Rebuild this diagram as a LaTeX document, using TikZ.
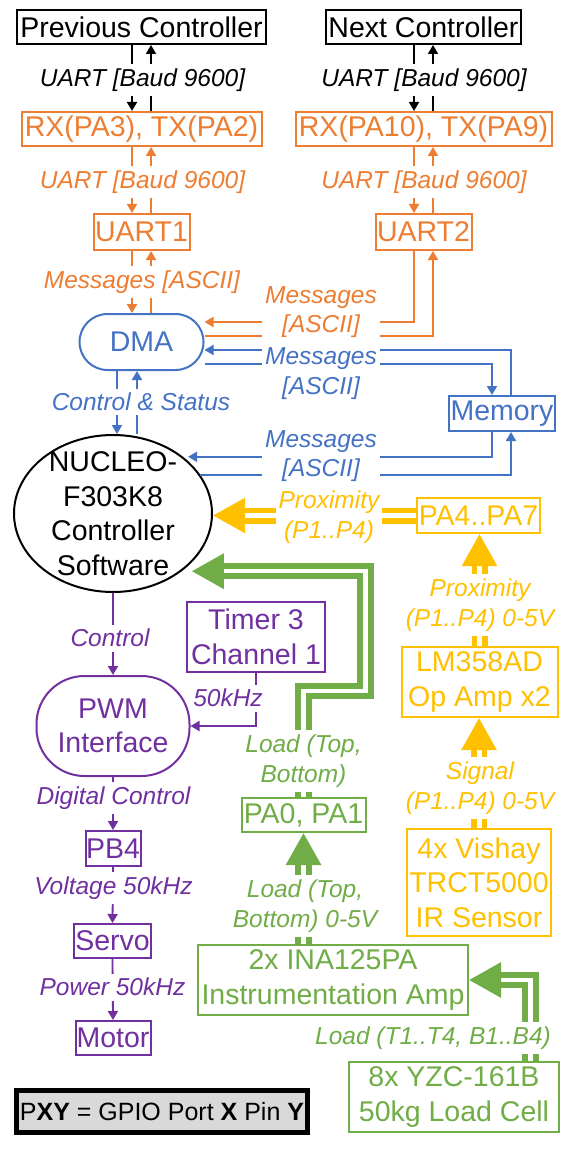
\documentclass[tikz,border=0pt]{standalone}
\usepackage{fontspec}
\setmainfont{Liberation Sans}
\usetikzlibrary{arrows.meta,shapes.geometric}
\definecolor{corange}{HTML}{ED7D31}
\definecolor{cblue}{HTML}{4472C4}
\definecolor{cyellow}{HTML}{FFC000}
\definecolor{cgreen}{HTML}{70AD47}
\definecolor{cpurple}{HTML}{7030A0}
\definecolor{cgray}{HTML}{D9D9D9}
\newcommand{\boxfont}{\fontsize{28.5}{34.5}\selectfont}
\newcommand{\lblfont}{\fontsize{24.5}{29.5}\selectfont\itshape}
\tikzset{
  unitbox/.style={draw, line width=2pt, inner sep=0pt, align=center, font=\boxfont},
  lbl/.style={fill=white, inner xsep=3pt, inner ysep=4.5pt, align=center, font=\lblfont},
  arr/.style={line width=1.8pt, -{Triangle[length=9pt,width=10pt]}},
  fat/.style={line width=5.5pt, double=white, double distance=5pt, -{Triangle[length=32pt,width=34pt]}},
}
\begin{document}
\begin{tikzpicture}[x=1pt,y=-1pt]
\useasboundingbox[fill=white] (0,0) rectangle (584,1150);
% boxes
\node[unitbox, minimum width=249pt, minimum height=34pt] (prev) at (141.5,27) {Previous Controller};
\node[unitbox, minimum width=195pt, minimum height=34pt] (next) at (423.5,27) {Next Controller};
\node[unitbox, corange, minimum width=240pt, minimum height=34pt] (rx1) at (141.5,129) {RX(PA3), TX(PA2)};
\node[unitbox, corange, minimum width=256pt, minimum height=34pt] (rx2) at (423.5,129) {RX(PA10), TX(PA9)};
\node[unitbox, corange, minimum width=96pt, minimum height=36pt] (uart1) at (141.5,232) {UART1};
\node[unitbox, corange, minimum width=96pt, minimum height=36pt] (uart2) at (423.5,232) {UART2};
\node[unitbox, cblue, minimum width=124pt, minimum height=56pt, rounded corners=28pt] (dma) at (141.5,342) {DMA};
\node[unitbox, cblue, minimum width=106pt, minimum height=35pt] (mem) at (502,413.5) {Memory};
\node[draw, ellipse, line width=2pt, minimum width=198pt, minimum height=157pt] (nuc) at (113,513.5) {};
\node[align=center, font=\boxfont] (nuctxt) at (nuc) {NUCLEO-\\F303K8\\Controller\\Software};
\node[unitbox, cyellow, minimum width=123pt, minimum height=35pt] (pa47) at (478.5,515.5) {PA4..PA7};
\node[unitbox, cpurple, minimum width=138pt, minimum height=70pt] (timer) at (256,637) {Timer 3\\Channel 1};
\node[unitbox, cpurple, minimum width=153pt, minimum height=100pt, rounded corners=48pt] (pwm) at (113,726) {PWM\\Interface};
\node[unitbox, cyellow, minimum width=156pt, minimum height=70pt] (lm) at (479.5,682) {LM358AD\\Op Amp x2};
\node[unitbox, cpurple, minimum width=55pt, minimum height=35pt] (pb4) at (113,848.5) {PB4};
\node[unitbox, cgreen, minimum width=124pt, minimum height=34pt] (pa01) at (303.5,815) {PA0, PA1};
\node[unitbox, cyellow, minimum width=144pt, minimum height=107pt] (vishay) at (479,882.5) {4x Vishay\\TRCT5000\\IR Sensor};
\node[unitbox, cpurple, minimum width=77pt, minimum height=34pt] (servo) at (112.5,941) {Servo};
\node[unitbox, cgreen, minimum width=270pt, minimum height=70pt] (ina) at (333,980) {2x INA125PA\\Instrumentation Amp};
\node[unitbox, cpurple, minimum width=75pt, minimum height=34pt] (motor) at (113,1038) {Motor};
\node[unitbox, cgreen, minimum width=210pt, minimum height=70pt] (cell) at (454,1097) {8x YZC-161B\\50kg Load Cell};
\node[draw, fill=cgray, line width=5pt, inner sep=0pt, minimum width=291pt, minimum height=42pt, font=\fontsize{25}{30}\selectfont] (legend) at (162,1111.5) {P\textbf{XY} = GPIO Port \textbf{X} Pin \textbf{Y}};
% uart links
\draw[arr] ([xshift=-9.5pt]prev.south) -- ([xshift=-9.5pt]rx1.north);
\draw[arr] ([xshift=9.5pt]rx1.north) -- ([xshift=9.5pt]prev.south);
\draw[arr] ([xshift=-9.5pt]next.south) -- ([xshift=-9.5pt]rx2.north);
\draw[arr] ([xshift=9.5pt]rx2.north) -- ([xshift=9.5pt]next.south);
\draw[arr, corange] ([xshift=-9.5pt]rx1.south) -- ([xshift=-9.5pt]uart1.north);
\draw[arr, corange] ([xshift=9.5pt]uart1.north) -- ([xshift=9.5pt]rx1.south);
\draw[arr, corange] ([xshift=-9.5pt]rx2.south) -- ([xshift=-9.5pt]uart2.north);
\draw[arr, corange] ([xshift=9.5pt]uart2.north) -- ([xshift=9.5pt]rx2.south);
\draw[arr, corange] ([xshift=-9.5pt]uart1.south) -- ([xshift=-9.5pt]dma.north);
\draw[arr, corange] ([xshift=9.5pt]dma.north) -- ([xshift=9.5pt]uart1.south);
\draw[arr, corange] ([xshift=-9.5pt]uart2.south) |- ([yshift=20pt]dma.east);
\draw[arr, corange] ([yshift=6pt]dma.east) -| ([xshift=9.5pt]uart2.south);
% dma, memory, controller
\draw[arr, cblue] ([xshift=9pt]mem.north) |- ([yshift=-8pt]dma.east);
\draw[arr, cblue] ([yshift=-22pt]dma.east) -| ([xshift=-10pt]mem.north);
\draw[arr, cblue] ([xshift=-10pt]mem.south) |- ([xshift=5pt]nuc.39);
\draw[arr, cblue] (nuc.24) -| ([xshift=9pt]mem.south);
\draw[arr, cblue] ([xshift=-24.5pt]dma.south) -- ([xshift=-24.5pt]dma.south |- nuc.north);
\draw[arr, cblue] ([xshift=-4.5pt]dma.south |- nuc.north) -- ([xshift=-4.5pt]dma.south);
% pwm chain
\draw[arr, cpurple] (nuc.south) -- (pwm.north);
\draw[arr, cpurple] (timer.south) |- (pwm.east);
\draw[arr, cpurple] (pwm.south) -- (pb4.north);
\draw[arr, cpurple] (pb4.south) -- (servo.north);
\draw[arr, cpurple] (servo.south) -- (motor.north);
% sensors
\draw[fat, cyellow] (pa47.west) -- (nuc.east |- pa47.west);
\draw[fat, cyellow] (lm.north) -- (lm.north |- pa47.south);
\draw[fat, cyellow] (vishay.north) -- (vishay.north |- lm.south);
\draw[fat, cgreen, line width=6pt, double distance=4.5pt] (pa01.north) |- (365.5,691) |- ([xshift=10pt]nuc.-40);
\draw[fat, cgreen, line width=6pt, double distance=4.5pt] (ina.north -| pa01) -- (pa01.south);
\draw[fat, cgreen, line width=6pt, double distance=4.5pt] ([xshift=76.5pt]cell.north) |- (ina.east);
% labels
\node[lbl] (l1) at (142.5,80) {UART [Baud 9600]};
\node[lbl] (l2) at (424,80) {UART [Baud 9600]};
\node[lbl, text=corange] (l3) at (142.5,182) {UART [Baud 9600]};
\node[lbl, text=corange] (l4) at (424,182) {UART [Baud 9600]};
\node[lbl, text=corange] (l5) at (142,282) {Messages [ASCII]};
\node[lbl, text=corange] (l6) at (321,312) {Messages\\{[ASCII]}};
\node[lbl, text=cblue] (l7) at (321,373.5) {Messages\\{[ASCII]}};
\node[lbl, text=cblue] (l8) at (141,402) {Control \& Status};
\node[lbl, text=cblue] (l9) at (321,456) {Messages\\{[ASCII]}};
\node[lbl, text=cyellow] (l10) at (329,517) {Proximity\\(P1..P4)};
\node[lbl, text=cyellow] (l11) at (480,605) {Proximity\\(P1..P4) 0-5V};
\node[lbl, text=cyellow] (l12) at (480,788) {Signal\\(P1..P4) 0-5V};
\node[lbl, text=cpurple] (l13) at (110,638) {Control};
\node[lbl, text=cpurple] (l14) at (228,698) {50kHz};
\node[lbl, text=cpurple] (l15) at (113.5,798) {Digital Control};
\node[lbl, text=cpurple] (l16) at (113.5,888) {Voltage 50kHz};
\node[lbl, text=cpurple] (l17) at (112.5,987) {Power 50kHz};
\node[lbl, text=cgreen] (l18) at (303.5,761) {Load (Top,\\Bottom)};
\node[lbl, text=cgreen] (l19) at (305,906) {Load (Top,\\Bottom) 0-5V};
\node[lbl, text=cgreen] (l20) at (433,1038) {Load (T1..T4, B1..B4)};
\end{tikzpicture}
\end{document}
